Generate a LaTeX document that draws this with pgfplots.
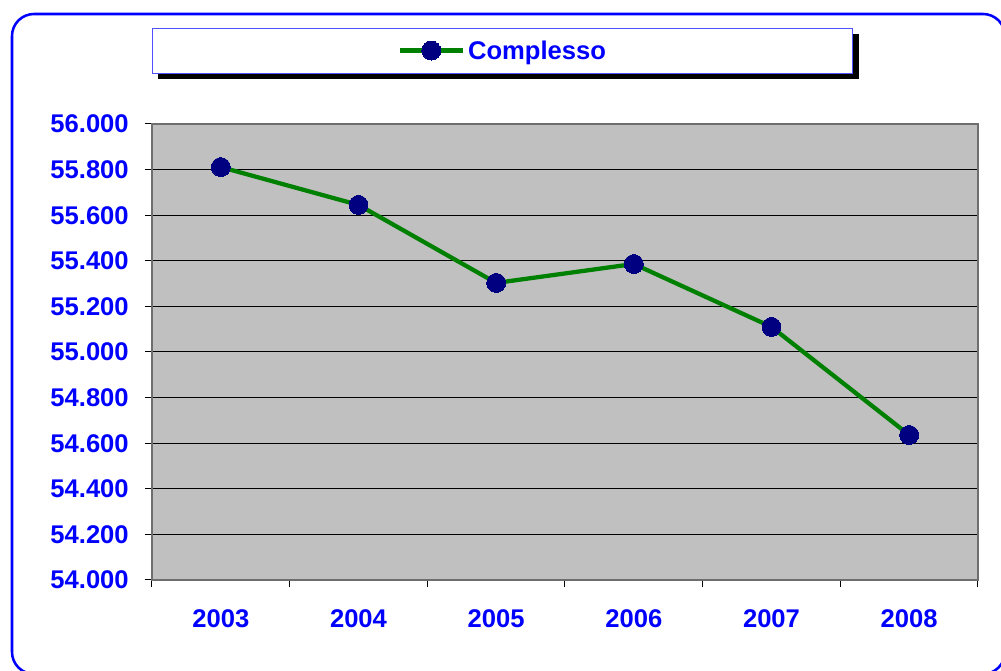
\documentclass[border=0pt]{standalone}
\usepackage{pgfplots}
\pgfplotsset{compat=1.18}
\usepackage{fontspec}
\setmainfont{Liberation Sans}
\definecolor{tickblue}{RGB}{0,0,255}
\definecolor{linegreen}{RGB}{0,128,0}
\definecolor{marknavy}{RGB}{0,0,128}
\definecolor{plotgray}{RGB}{192,192,192}
\definecolor{framegray}{RGB}{110,110,110}
\definecolor{legborder}{RGB}{80,80,255}
\begin{document}
\begin{tikzpicture}[x=0.75pt,y=0.75pt]
\clip (0,0) rectangle (1001,671);
\draw[tickblue, line width=1.9pt, rounded corners=16.5pt] (12,-3) rectangle (1005,657);
% legend shadow
\fill[black] (158,592) rectangle (859,637);
\begin{axis}[
  at={(114pt,68.25pt)}, anchor=south west,
  scale only axis, width=619.5pt, height=342pt,
  xmin=-0.5, xmax=5.5, ymin=54000, ymax=56000,
  axis background/.style={fill=plotgray},
  axis line style={draw=framegray, line width=1.5pt},
  xtick={-0.5,0.5,...,5.5}, xticklabels={},
  extra x ticks={0,1,2,3,4,5},
  extra x tick labels={2003,2004,2005,2006,2007,2008},
  extra x tick style={major tick length=0pt, tick style={draw=none}},
  ytick={54000,54200,...,56000},
  ymajorgrids, grid style={black, line width=0.75pt},
  tick align=outside, major tick length=5.25pt, tick pos=left,
  tick style={black, line width=0.75pt},
  scaled y ticks=false,
  /pgf/number format/.cd, fixed, 1000 sep={.}, assume math mode=true,
  /pgfplots/.cd,
  ticklabel style={font=\fontsize{19.2}{23}\selectfont\bfseries, text=tickblue, inner sep=0pt},
  yticklabel style={anchor=east, xshift=-12pt},
  xticklabel style={anchor=north, yshift=-22pt},
  legend style={at={(0.4243,1.161)}, anchor=center, draw=legborder, line width=0.75pt,
    fill=white, inner xsep=0pt, inner ysep=0pt, nodes={inner sep=0pt, text depth=0pt},
    font=\fontsize{19.2}{23}\selectfont\bfseries, text=tickblue},
  legend image code/.code={\path[draw=none,fill=none] (-185.25pt,-16.875pt) rectangle (47.25pt,16.875pt);
    \draw[mark repeat=2,mark phase=2,#1] plot coordinates {(0pt,0pt) (23.6pt,0pt) (47.25pt,0pt)};},
]
\addplot[linegreen, line width=3.2pt, mark=*, mark size=7.1pt,
  mark options={fill=marknavy, draw=marknavy, line width=0pt}]
  coordinates {(0,55811) (1,55645) (2,55303) (3,55386) (4,55110) (5,54636)};
\addlegendentry{\hspace*{2.25pt}Complesso\hspace*{184.5pt}}
\end{axis}
\end{tikzpicture}
\end{document}
